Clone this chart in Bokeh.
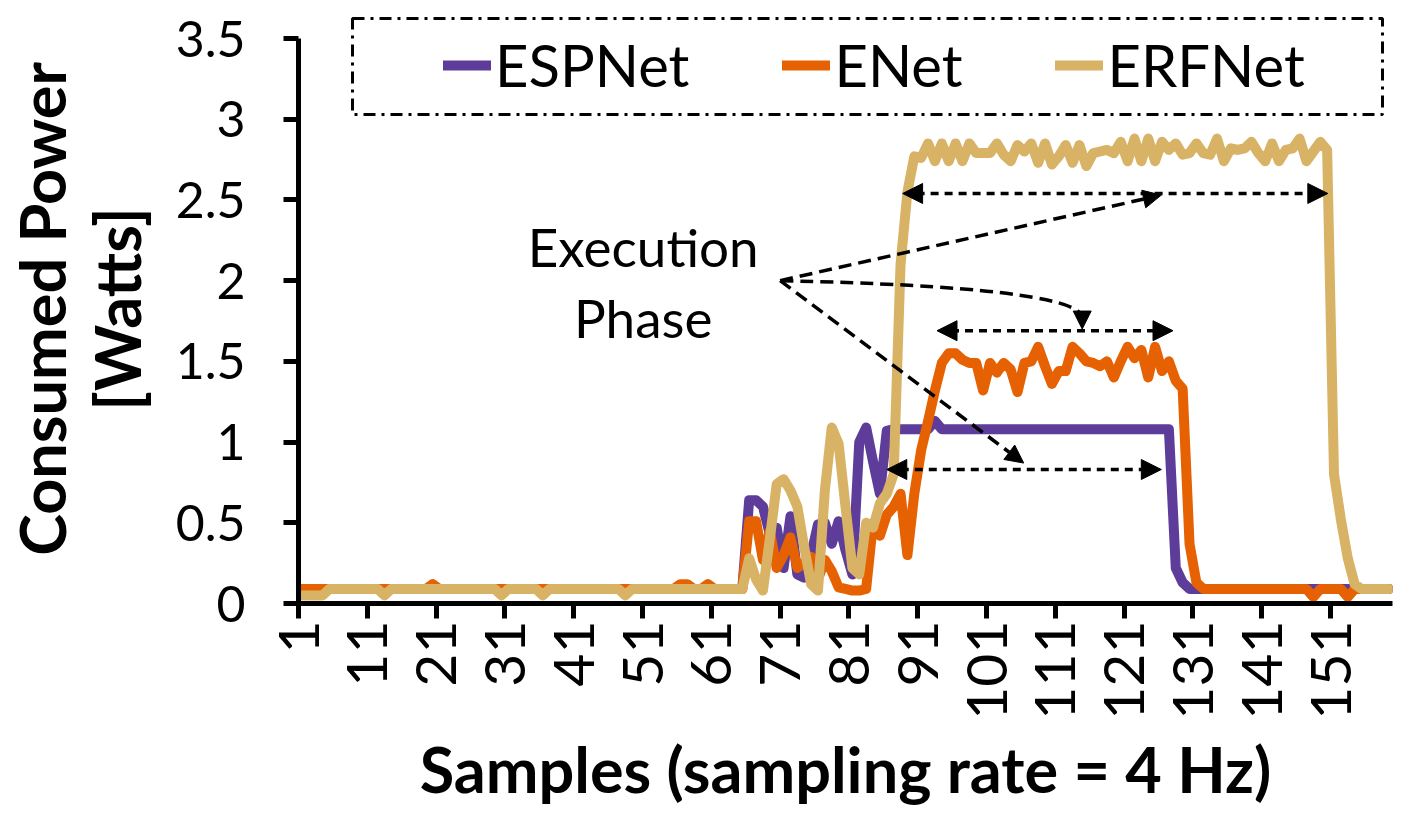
import math
from bokeh.plotting import figure
from bokeh.models import (Range1d, FixedTicker, CustomJSTickFormatter, Legend, LegendItem,
                          Arrow, NormalHead, Label, BoxAnnotation)
from bokeh.embed import file_html
from bokeh.resources import INLINE

# ---------------- data ----------------
samples = list(range(1, 160))

espnet = ([0.09] * 65 +
          [0.64, 0.64, 0.60, 0.43, 0.47,
           0.22, 0.54, 0.18, 0.16, 0.30, 0.49, 0.50, 0.37, 0.51, 0.33,
           0.18, 1.00, 1.09, 0.88, 0.68, 1.07, 1.08, 1.08, 1.08, 1.08,
           1.08, 1.08, 1.13] +
          [1.08] * 34 +
          [0.22, 0.13] +
          [0.09] * 30)

enet = ([0.09] * 19 + [0.12] + [0.09] * 35 + [0.12, 0.12, 0.09, 0.09, 0.12] + [0.09] * 5 +
        [0.51, 0.51, 0.27, 0.45, 0.22,
         0.30, 0.41, 0.22, 0.25, 0.29, 0.15, 0.27, 0.20, 0.10, 0.09,
         0.08, 0.08, 0.09, 0.50, 0.42, 0.55, 0.60, 0.68, 0.30, 0.68,
         0.95, 1.13, 1.32, 1.49, 1.55, 1.55, 1.51, 1.49, 1.49, 1.32,
         1.49, 1.43, 1.49, 1.45, 1.31, 1.49, 1.50, 1.59, 1.47, 1.36,
         1.44, 1.44, 1.59, 1.55, 1.50, 1.49, 1.47, 1.50, 1.40, 1.50,
         1.59, 1.52, 1.57, 1.40, 1.59, 1.44, 1.50, 1.38, 1.33, 0.37,
         0.13] +
        [0.09] * 16 + [0.04] + [0.09] * 4 + [0.04] + [0.09] * 6)

erfnet = ([0.05] * 4 + [0.09] * 8 + [0.05] + [0.09] * 16 + [0.05] + [0.09] * 5 + [0.05] +
          [0.09] * 11 + [0.05] + [0.09] * 17 +
          [0.28, 0.15, 0.08, 0.40, 0.74,
           0.77, 0.70, 0.60, 0.35, 0.12, 0.08, 0.70, 1.09, 0.99, 0.60,
           0.22, 0.18, 0.50, 0.47, 0.62, 0.68, 0.80, 2.10, 2.55, 2.77,
           2.76, 2.85, 2.74, 2.85, 2.74, 2.85, 2.74, 2.85, 2.79, 2.79,
           2.79, 2.85, 2.78, 2.74, 2.84, 2.80, 2.85, 2.73, 2.85, 2.72,
           2.77, 2.84, 2.73, 2.84, 2.71, 2.79, 2.80, 2.81, 2.79, 2.86,
           2.74, 2.88, 2.74, 2.88, 2.74, 2.86, 2.81, 2.85, 2.78, 2.79,
           2.85, 2.79, 2.78, 2.88, 2.74, 2.82, 2.81, 2.82, 2.86, 2.79,
           2.74, 2.85, 2.74, 2.81, 2.82, 2.88, 2.74, 2.80, 2.86, 2.81,
           0.80, 0.52, 0.28, 0.12] +
          [0.09] * 5)

series_names = ["ESPNet", "ENet", "ERFNet"]
series_colors = ["#5E3C99", "#E66101", "#D9B365"]
x_tick_labels = [1, 11, 21, 31, 41, 51, 61, 71, 81, 91, 101, 111, 121, 131, 141, 151]
y_ticks = [0, 0.5, 1, 1.5, 2, 2.5, 3, 3.5]

# ---------------- figure ----------------
# frame: left 295, right 1392, 3.5 at y=38, 0 at y=603; top extended to hold the legend
p = figure(width=1409, height=809, output_backend="svg", toolbar_location=None,
           x_range=Range1d(0.5, 159.5), y_range=Range1d(0, 3.5 + 24 / 161.4),
           min_border_left=295, min_border_right=17, min_border_top=14,
           min_border_bottom=206)
p.outline_line_color = None
p.grid.visible = False
p.background_fill_color = "white"

for ax in (p.xaxis[0], p.yaxis[0]):
    ax.axis_line_width = 5
    ax.axis_line_color = "black"
    ax.major_tick_line_width = 5
    ax.major_tick_line_color = "black"
    ax.major_tick_out = 15
    ax.major_tick_in = 0
    ax.minor_tick_line_color = None
    ax.major_label_text_font = "Lato"
    ax.major_label_text_color = "black"
    ax.axis_label_text_font = "Lato"
    ax.axis_label_text_font_style = "bold"
    ax.axis_label_text_font_size = "63px"
    ax.axis_label_text_color = "black"

p.xaxis.ticker = FixedTicker(ticks=[t - 0.5 for t in x_tick_labels])
p.xaxis.formatter = CustomJSTickFormatter(code="return String(Math.round(tick + 0.5));")
p.xaxis.major_label_orientation = math.pi / 2
p.xaxis.major_label_text_font_size = "57px"
p.xaxis.major_label_standoff = 2
p.xaxis.axis_label = "Samples (sampling rate = 4 Hz)"
p.xaxis.axis_label_standoff = 8

p.yaxis.ticker = FixedTicker(ticks=y_ticks)
p.yaxis.formatter = CustomJSTickFormatter(code="return String(tick);")
p.yaxis.bounds = (0, 3.5)
p.yaxis.major_label_text_font_size = "50px"
p.yaxis.major_label_standoff = 38
p.yaxis.axis_label = "Consumed Power\n[Watts]"
p.yaxis.axis_label_text_line_height = 1.0
p.yaxis.axis_label_standoff = 19

# lines
renderers = []
for ys, c in zip([espnet, enet, erfnet], series_colors):
    r = p.line(samples, ys, line_color=c, line_width=10, line_join="round", line_cap="round")
    renderers.append(r)

# legend
legend = Legend(items=[LegendItem(label=n, renderers=[r]) for n, r in zip(series_names, renderers)],
                orientation="horizontal", location=(145, 504),
                glyph_width=48, glyph_height=40, label_standoff=4, spacing=93,
                padding=0, margin=0, border_line_color=None, background_fill_alpha=0,
                label_text_font="Lato", label_text_font_size="58px", label_text_color="black")
p.add_layout(legend)

legend_box = BoxAnnotation(left=352, right=1382, top=18, bottom=114,
                           left_units="canvas", right_units="canvas",
                           top_units="canvas", bottom_units="canvas",
                           fill_color=None, fill_alpha=0,
                           line_color="black", line_alpha=1.0, line_width=3,
                           line_dash="12 6 3 6")
p.add_layout(legend_box)

# annotation text
for txt, ty in [("Execution", 2.21), ("Phase", 1.77)]:
    p.add_layout(Label(x=50.6, y=ty, text=txt, text_align="center", text_baseline="middle",
                       text_font="Lato", text_font_size="53px", text_color="black"))

# double-headed execution-phase arrows
for xs, xe, yy in [(88.3, 150.1, 2.54), (93.3, 127.6, 1.69), (86.0, 125.9, 0.83)]:
    p.add_layout(Arrow(x_start=xs, y_start=yy, x_end=xe, y_end=yy,
                       start=NormalHead(size=20, fill_color="black", line_color="black"),
                       end=NormalHead(size=20, fill_color="black", line_color="black"),
                       line_color="black", line_width=3.5, line_dash="8 6"))

# pointer arrows from the text
for xe, ye in [(125.9, 2.53), (105.9, 0.87)]:
    p.add_layout(Arrow(x_start=70.5, y_start=2.0, x_end=xe, y_end=ye,
                       end=NormalHead(size=18, fill_color="black", line_color="black"),
                       line_color="black", line_width=3.5, line_dash="13 7"))

p.quadratic(x0=[70.5], y0=[2.0], x1=[114.4], y1=[1.78], cx=[112.8], cy=[1.96],
            line_color="black", line_width=3.5, line_dash="13 7")
p.add_layout(Arrow(x_start=114.4, y_start=1.79, x_end=114.4, y_end=1.70,
                   end=NormalHead(size=18, fill_color="black", line_color="black"),
                   line_color="black", line_alpha=0, line_width=3.5))

open("out.html", "w").write(file_html(p, INLINE))
